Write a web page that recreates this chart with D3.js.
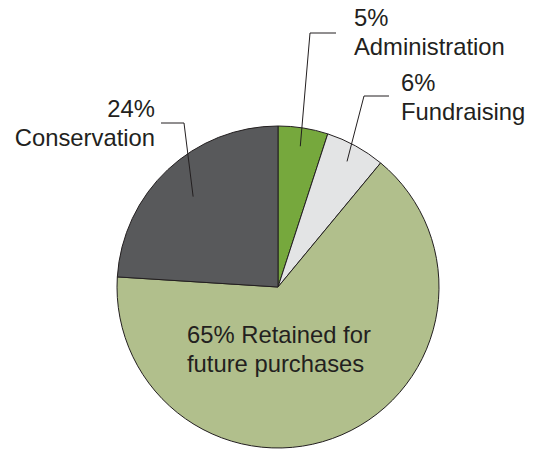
<!DOCTYPE html>
<html>
<head>
<meta charset="utf-8">
<script src="https://cdn.jsdelivr.net/npm/d3@7"></script>
<style>
  body { margin: 0; background: #fff; }
  svg text { font-family: "Liberation Sans", Arial, Helvetica, sans-serif; }
</style>
</head>
<body>
<div id="chart"></div>
<script>
// data
var categories = ['Administration', 'Fundraising', 'Retained for future purchases', 'Conservation'];
var values = [5, 6, 65, 24];
var label_lines = [
    ['5%', 'Administration'],
    ['6%', 'Fundraising'],
    ['65% Retained for', 'future purchases'],
    ['24%', 'Conservation']
];

function drawPie() {
    var width = 537;
    var height = 450;

    var cx = 278;
    var cy = 287;
    var radius = 161;

    var colors = ['#76a83d', '#e3e4e5', '#b1bf8c', '#58595b'];
    var font_size = 23.8;
    var line_gap = 29;

    // label placement per slice (layout only)
    var label_layout = [
        { x: 354, y: 26, anchor: 'start', elbow: [[336, 33], [310, 33]], tip: 0.885 },
        { x: 401, y: 91, anchor: 'start', elbow: [[389, 96], [364, 96]], tip: 0.89 },
        { x: 187, y: 343, anchor: 'start', elbow: null, tip: 0 },
        { x: 155, y: 117, anchor: 'end', elbow: [[161, 123], [184, 123]], tip: 0.77 }
    ];

    var rows = categories.map(function(c, i) {
        return { name: c, value: values[i], lines: label_lines[i], color: colors[i], layout: label_layout[i] };
    });

    var svg = d3.select('#chart')
        .append('svg')
        .attr('width', width)
        .attr('height', height)
        .attr('viewBox', `0 0 ${width} ${height}`);

    var pie = d3.pie()
        .sort(null)
        .value(function(d) { return d.value; });

    var arcs = pie(rows);

    var arc = d3.arc()
        .innerRadius(0)
        .outerRadius(radius);

    var g = svg.append('g')
        .attr('transform', `translate(${cx}, ${cy})`);

    g.selectAll('path.slice')
        .data(arcs)
        .enter()
        .append('path')
        .attr('class', 'slice')
        .attr('d', arc)
        .attr('fill', function(d) { return d.data.color; })
        .attr('stroke', '#231f20')
        .attr('stroke-width', 1)
        .attr('stroke-linejoin', 'round');

    // leader lines: horizontal stub by the label, then down into the slice
    arcs.forEach(function(d) {
        var lay = d.data.layout;
        if (!lay.elbow) return;
        var mid = (d.startAngle + d.endAngle) / 2;
        var r = radius * lay.tip;
        var tip = [cx + r * Math.sin(mid), cy - r * Math.cos(mid)];
        svg.append('path')
            .attr('d', d3.line()([lay.elbow[0], lay.elbow[1], tip]))
            .attr('fill', 'none')
            .attr('stroke', '#231f20')
            .attr('stroke-width', 1);
    });

    // labels
    rows.forEach(function(d) {
        var t = svg.append('text')
            .attr('x', d.layout.x)
            .attr('y', d.layout.y)
            .attr('text-anchor', d.layout.anchor)
            .attr('font-size', font_size)
            .attr('fill', '#231f20');
        d.lines.forEach(function(line, i) {
            t.append('tspan')
                .attr('x', d.layout.x)
                .attr('y', d.layout.y + i * line_gap)
                .text(line);
        });
    });
}

drawPie();
</script>
</body>
</html>
